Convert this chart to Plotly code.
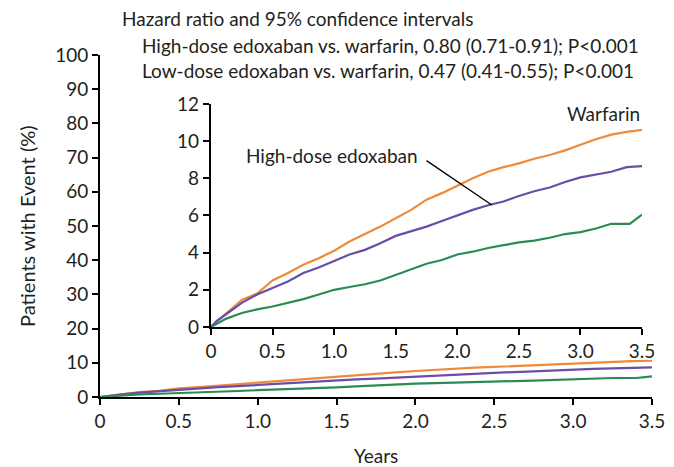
import plotly.graph_objects as go

# Data (years, cumulative % with event)
warf_x = [0, 0.05, 0.125, 0.25, 0.375, 0.5, 0.625, 0.75, 0.875, 1.0, 1.125, 1.25, 1.375, 1.5, 1.625,
          1.75, 1.875, 2.0, 2.125, 2.25, 2.375, 2.5, 2.625, 2.75, 2.875, 3.0, 3.125, 3.25, 3.375, 3.5]
warf_y = [0, 0.3, 0.75, 1.45, 1.8, 2.5, 2.9, 3.35, 3.7, 4.1, 4.6, 5.0, 5.4, 5.85, 6.3,
          6.85, 7.2, 7.6, 8.0, 8.35, 8.6, 8.8, 9.05, 9.25, 9.5, 9.8, 10.1, 10.35, 10.5, 10.6]

high_x = [0, 0.05, 0.125, 0.25, 0.375, 0.5, 0.625, 0.75, 0.875, 1.0, 1.125, 1.25, 1.375, 1.5, 1.625,
          1.75, 1.875, 2.0, 2.125, 2.25, 2.375, 2.5, 2.625, 2.75, 2.875, 3.0, 3.125, 3.25, 3.375, 3.5]
high_y = [0, 0.35, 0.7, 1.3, 1.75, 2.1, 2.45, 2.9, 3.2, 3.55, 3.9, 4.15, 4.5, 4.9, 5.15,
          5.4, 5.7, 6.0, 6.3, 6.55, 6.75, 7.05, 7.3, 7.5, 7.8, 8.05, 8.2, 8.35, 8.6, 8.65]

low_x = [0, 0.125, 0.25, 0.375, 0.5, 0.625, 0.75, 0.875, 1.0, 1.125, 1.25, 1.375, 1.5, 1.625,
         1.75, 1.875, 2.0, 2.125, 2.25, 2.375, 2.5, 2.625, 2.75, 2.875, 3.0, 3.125, 3.25, 3.4, 3.45, 3.5]
low_y = [0, 0.45, 0.75, 0.95, 1.1, 1.3, 1.5, 1.75, 2.0, 2.15, 2.3, 2.5, 2.8, 3.1,
         3.4, 3.6, 3.9, 4.05, 4.25, 4.4, 4.55, 4.65, 4.8, 5.0, 5.1, 5.3, 5.55, 5.55, 5.8, 6.05]

x_ticks = [0, 0.5, 1.0, 1.5, 2.0, 2.5, 3.0, 3.5]
x_ticktext = ["0", "0.5", "1.0", "1.5", "2.0", "2.5", "3.0", "3.5"]
main_y_ticks = [0, 10, 20, 30, 40, 50, 60, 70, 80, 90, 100]
inset_y_ticks = [0, 2, 4, 6, 8, 10, 12]

series = [
    ("Warfarin", warf_x, warf_y, "#EE8A3A"),
    ("High-dose edoxaban", high_x, high_y, "#6A4DA8"),
    ("Low-dose edoxaban", low_x, low_y, "#2B8B55"),
]

FONT = "Lato"
TXT = "#231F20"

fig = go.Figure()
for name, xs, ys, col in series:
    fig.add_trace(go.Scatter(x=xs, y=ys, mode="lines", line=dict(color=col, width=2.2),
                             name=name, showlegend=False, xaxis="x", yaxis="y"))
for name, xs, ys, col in series:
    fig.add_trace(go.Scatter(x=xs, y=ys, mode="lines", line=dict(color=col, width=2.2),
                             name=name, showlegend=False, xaxis="x2", yaxis="y2"))

axis_common = dict(showgrid=False, zeroline=False, showline=True, linecolor="black", linewidth=2,
                   ticks="outside", ticklen=6, tickwidth=2, tickcolor="black", automargin=False,
                   tickfont=dict(family=FONT, size=19, color=TXT))

fig.update_layout(
    width=674, height=467,
    margin=dict(l=100, r=22, t=55, b=70),
    paper_bgcolor="white", plot_bgcolor="white",
    font=dict(family=FONT, color=TXT),
    xaxis=dict(domain=[0, 1], range=[0, 3.5], tickvals=x_ticks, ticktext=x_ticktext, **axis_common),
    yaxis=dict(domain=[0, 1], range=[0, 100], tickvals=main_y_ticks, **axis_common),
    xaxis2=dict(domain=[0.201, 0.982], anchor="y2", range=[0, 3.5], tickvals=x_ticks, ticktext=x_ticktext,
                **axis_common),
    yaxis2=dict(domain=[0.2047, 0.857], anchor="x2", range=[0, 12], tickvals=inset_y_ticks,
                **axis_common),
)

def px_x(px):
    return (px - 100) / 552.0

def px_y(py):
    return (397 - py) / 342.0

texts = [
    ("Hazard ratio and 95% confidence intervals", 120, 18),
    ("High-dose edoxaban vs. warfarin, 0.80 (0.71-0.91); P<0.001", 140, 45),
    ("Low-dose edoxaban vs. warfarin, 0.47 (0.41-0.55); P<0.001", 140, 70),
]
for t, x, y in texts:
    fig.add_annotation(text=t, xref="paper", yref="paper", x=px_x(x), y=px_y(y),
                       xanchor="left", yanchor="middle", showarrow=False,
                       font=dict(family=FONT, size=19, color=TXT))

# axis titles as annotations for exact placement
fig.add_annotation(text="Years", xref="paper", yref="paper", x=px_x(376), y=px_y(455),
                   xanchor="center", yanchor="middle", showarrow=False, borderpad=0,
                   font=dict(family=FONT, size=19, color=TXT))
fig.add_annotation(text="Patients with Event (%)", xref="paper", yref="paper", x=px_x(27), y=px_y(226),
                   xanchor="center", yanchor="middle", showarrow=False, textangle=-90,
                   font=dict(family=FONT, size=20, color=TXT))

fig.add_annotation(text="Warfarin", xref="x2", yref="y2", x=3.5, y=11.5, xanchor="right", yanchor="middle",
                   showarrow=False, font=dict(family=FONT, size=19, color=TXT))
fig.add_annotation(text="Low-dose edoxaban", xref="x2", yref="y2", x=3.53, y=3.4, xanchor="right", yanchor="middle",
                   showarrow=False, font=dict(family=FONT, size=19, color=TXT))
fig.add_annotation(text="High-dose edoxaban", xref="x2", yref="y2", x=0.27, y=9.2, xanchor="left", yanchor="middle",
                   showarrow=False, font=dict(family=FONT, size=19, color=TXT))
fig.add_shape(type="line", xref="x2", yref="y2", x0=1.75, y0=8.95, x1=2.28, y1=6.56,
              line=dict(color="black", width=1.3))

fig.write_html("out.html")
